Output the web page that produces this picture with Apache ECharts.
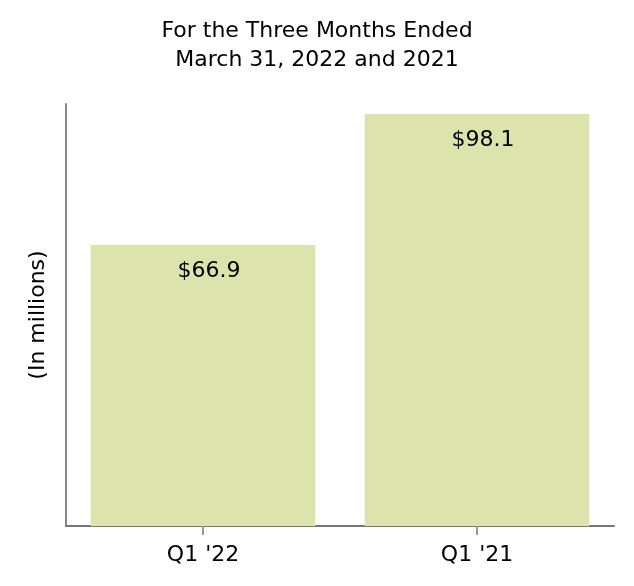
<!DOCTYPE html>
<html>
<head>
<meta charset="utf-8">
<script src="https://cdn.jsdelivr.net/npm/echarts@6/dist/echarts.min.js"></script>
<style>
  html, body { margin: 0; padding: 0; background: #fff; }
  #chart { width: 634px; height: 586px; }
</style>
</head>
<body>
<div id="chart"></div>
<script>
  const categories = ["Q1 '22", "Q1 '21"]
  const values = [66.9, 98.1]
  const valueLabels = ['$66.9', '$98.1']

  const font = 'DejaVu Sans'
  const chart = echarts.init(document.getElementById('chart'))

  let option = {
    animation: false,
    title: {
      text: 'For the Three Months Ended\nMarch 31, 2022 and 2021',
      left: 'center',
      top: 12,
      textStyle: {
        fontFamily: font,
        fontSize: 22,
        fontWeight: 'normal',
        color: '#000',
        lineHeight: 29
      }
    },
    grid: { left: 66, right: 20, top: 104, bottom: 60 },
    xAxis: {
      type: 'category',
      data: categories,
      axisLine: { lineStyle: { color: '#777', width: 2 } },
      axisTick: { show: true, alignWithLabel: true, length: 9, lineStyle: { color: '#999', width: 2 } },
      axisLabel: { fontFamily: font, fontSize: 22, color: '#000', margin: 18 }
    },
    yAxis: {
      type: 'value',
      min: 0,
      max: 100.5,
      name: '(In millions)',
      nameLocation: 'middle',
      nameRotate: 90,
      nameGap: 17,
      nameTextStyle: { fontFamily: font, fontSize: 22, color: '#000' },
      axisLine: { show: true, lineStyle: { color: '#888', width: 2 } },
      axisTick: { show: false },
      axisLabel: { show: false },
      splitLine: { show: false }
    },
    series: [
      {
        type: 'bar',
        data: values,
        barWidth: '82%',
        itemStyle: { color: '#dce3ad' },
        label: {
          show: true,
          position: 'insideTop',
          distance: 15,
          offset: [6, 0],
          formatter: (p) => valueLabels[p.dataIndex],
          fontFamily: font,
          fontSize: 22,
          color: '#000'
        }
      }
    ]
  }
  chart.setOption(option)
</script>
</body>
</html>
